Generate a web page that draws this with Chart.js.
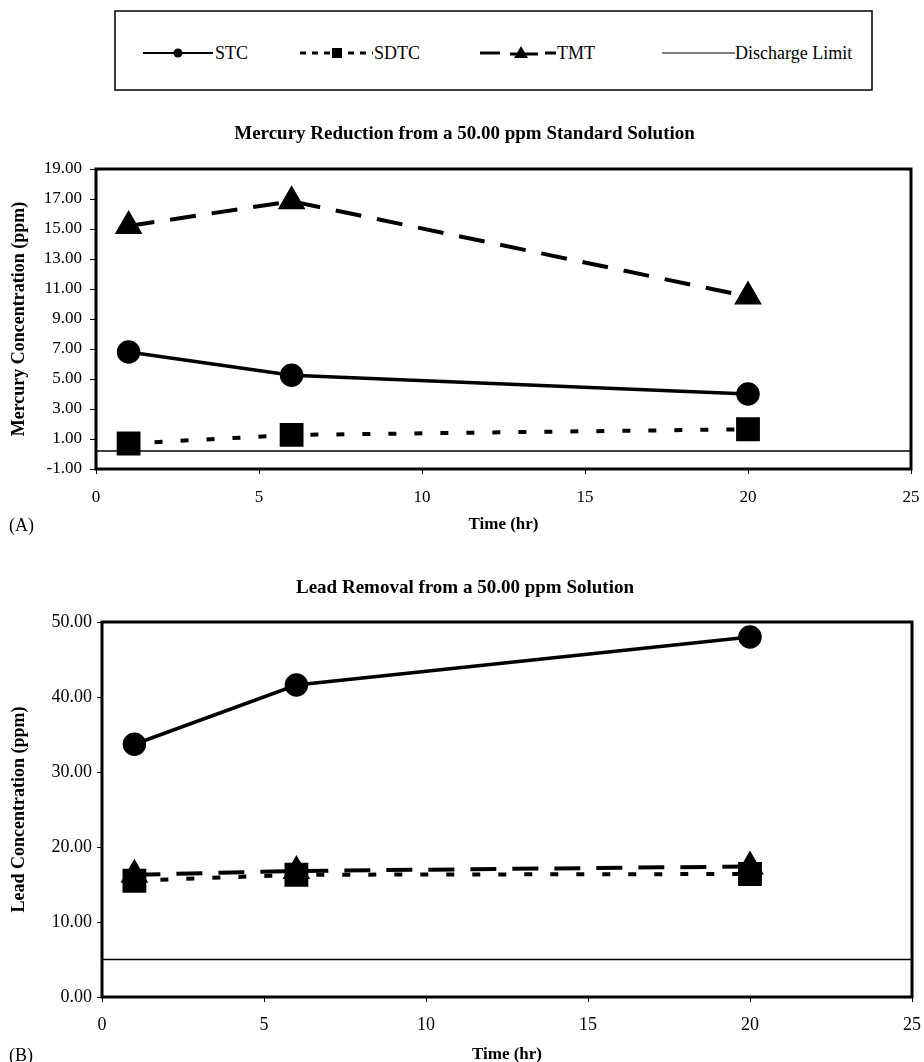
<!DOCTYPE html>
<html>
<head>
<meta charset="utf-8">
<script src="https://cdn.jsdelivr.net/npm/chart.js@4.4.1/dist/chart.umd.min.js"></script>
<style>
  body { margin: 0; background: #fff; width: 924px; height: 1062px; overflow: hidden; position: relative; font-family: "Liberation Serif", "Times New Roman", serif; }
  canvas { position: absolute; left: 0; }
  #chartA { top: 100px; }
  #chartB { top: 552px; }
  #legend { position: absolute; left: 0; top: 0; }
  .panel { position: absolute; left: 9px; font-size: 18px; line-height: 18px; color: #000; }
</style>
</head>
<body>
<svg id="legend" width="924" height="100" font-family="Liberation Serif, serif" font-size="18">
  <rect x="115" y="11" width="757" height="79" fill="none" stroke="#000" stroke-width="1.5"/>
  <!-- STC -->
  <line x1="143" y1="53" x2="213" y2="53" stroke="#000" stroke-width="2"/>
  <circle cx="178" cy="53" r="4.5" fill="#000"/>
  <text x="215" y="59">STC</text>
  <!-- SDTC -->
  <line x1="300" y1="53" x2="373" y2="53" stroke="#000" stroke-width="3" stroke-dasharray="6 6"/>
  <rect x="332" y="48" width="10" height="10" fill="#000"/>
  <text x="374" y="59">SDTC</text>
  <!-- TMT -->
  <line x1="480" y1="53" x2="500" y2="53" stroke="#000" stroke-width="3"/>
  <line x1="510" y1="54" x2="538" y2="54" stroke="#000" stroke-width="3"/>
  <polygon points="521,46 514,58 528,58" fill="#000"/>
  <line x1="545" y1="53" x2="556" y2="53" stroke="#000" stroke-width="3"/>
  <text x="557" y="59">TMT</text>
  <!-- Discharge Limit -->
  <line x1="662" y1="53" x2="735" y2="53" stroke="#000" stroke-width="1.2"/>
  <text x="735" y="59">Discharge Limit</text>
</svg>

<canvas id="chartA" width="929" height="440"></canvas>
<canvas id="chartB" width="930" height="520"></canvas>
<div class="panel" style="top:516px">(A)</div>
<div class="panel" style="top:1046px">(B)</div>

<script>
// sampling times (hr)
const hours = [1, 6, 20];
const timeRange = [0, 25];

// (A) mercury, ppm
const hgSTC = [6.8, 5.25, 4.0];
const hgSDTC = [0.7, 1.27, 1.65];
const hgTMT = [15.2, 16.85, 10.5];
const hgLimit = 0.2;

// (B) lead, ppm
const pbSTC = [33.7, 41.6, 48.0];
const pbSDTC = [15.5, 16.3, 16.4];
const pbTMT = [16.3, 16.8, 17.4];
const pbLimit = 5.0;

const serif = '"Liberation Serif", "Times New Roman", serif';

function points(ys) {
    return hours.map((h, i) => ({ x: h, y: ys[i] }));
}

// thick frame round the plot area
const frame = {
    id: 'frame',
    afterDatasetsDraw(chart) {
        const a = chart.chartArea;
        const ctx = chart.ctx;
        ctx.save();
        ctx.strokeStyle = '#000';
        ctx.lineWidth = 3;
        ctx.strokeRect(a.left, a.top, a.right - a.left, a.bottom - a.top);
        ctx.restore();
    }
};

function makeChart(id, cfg) {
    const datasets = [
        {
            label: 'STC',
            data: points(cfg.stc),
            borderColor: '#000', backgroundColor: '#000',
            borderWidth: 3.5,
            pointStyle: 'circle', pointRadius: 10, pointHoverRadius: 10
        },
        {
            label: 'SDTC',
            data: points(cfg.sdtc),
            borderColor: '#000', backgroundColor: '#000',
            borderWidth: 4, borderDash: [8, 18],
            pointStyle: 'rect', pointRadius: 14, pointHoverRadius: 14
        },
        {
            label: 'TMT',
            data: points(cfg.tmt),
            borderColor: '#000', backgroundColor: '#000',
            borderWidth: 4, borderDash: [26, 16],
            pointStyle: 'triangle', pointRadius: 12, pointHoverRadius: 12
        },
        {
            label: 'Discharge Limit',
            data: timeRange.map(x => ({ x: x, y: cfg.limit })),
            borderColor: '#000',
            borderWidth: 1.5,
            pointRadius: 0
        }
    ];

    return new Chart(document.getElementById(id), {
        type: 'line',
        data: { datasets: datasets },
        options: {
            responsive: false,
            animation: false,
            events: [],
            layout: { padding: { left: 0, right: 0, top: 0, bottom: 0 } },
            scales: {
                x: {
                    type: 'linear',
                    min: timeRange[0], max: timeRange[1],
                    afterFit: s => {
                        s.height = cfg.xHeight;
                        s.paddingLeft = 0;
                        s.paddingRight = 0;
                    },
                    border: { display: false },
                    grid: { drawOnChartArea: false, tickLength: 5, color: '#000' },
                    ticks: { stepSize: 5, color: '#000', padding: cfg.xPad, font: { family: serif, size: cfg.xFont } },
                    title: {
                        display: true, text: 'Time (hr)', color: '#000',
                        padding: { top: cfg.xTitlePad, bottom: cfg.xTitlePad },
                        font: { family: serif, size: 17, weight: 'bold' }
                    }
                },
                y: {
                    min: cfg.yMin, max: cfg.yMax,
                    afterFit: s => { s.width = cfg.yWidth; },
                    border: { display: false },
                    grid: { drawOnChartArea: false, tickLength: cfg.yTick, color: '#000' },
                    ticks: {
                        stepSize: cfg.yStep, color: '#000', padding: cfg.yPad,
                        font: { family: serif, size: cfg.yFont },
                        callback: v => v.toFixed(2)
                    },
                    title: {
                        display: true, text: cfg.yTitle, color: '#000',
                        padding: { top: 8.2, bottom: 8.2 },
                        font: { family: serif, size: 18, weight: 'bold' }
                    }
                }
            },
            plugins: {
                legend: { display: false },
                tooltip: { enabled: false },
                title: {
                    display: true, text: cfg.title, color: '#000',
                    padding: { top: cfg.titleTop, bottom: cfg.titleBottom },
                    font: { family: serif, size: 19, weight: 'bold' }
                }
            }
        },
        plugins: [frame]
    });
}

makeChart('chartA', {
    stc: hgSTC, sdtc: hgSDTC, tmt: hgTMT, limit: hgLimit,
    title: 'Mercury Reduction from a 50.00 ppm Standard Solution',
    yTitle: 'Mercury Concentration (ppm)',
    yMin: -1, yMax: 19, yStep: 2,
    titleTop: 22.6, titleBottom: 23.6,
    xHeight: 71, xPad: 13, xFont: 17, xTitlePad: 4.8,
    yWidth: 96, yTick: 6, yPad: 8, yFont: 17
});

makeChart('chartB', {
    stc: pbSTC, sdtc: pbSDTC, tmt: pbTMT, limit: pbLimit,
    title: 'Lead Removal from a 50.00 ppm Solution',
    yTitle: 'Lead Concentration (ppm)',
    yMin: 0, yMax: 50, yStep: 10,
    titleTop: 24.6, titleBottom: 22.6,
    xHeight: 75, xPad: 12, xFont: 18, xTitlePad: 7.4,
    yWidth: 102, yTick: 5, yPad: 5, yFont: 18
});
</script>
</body>
</html>
